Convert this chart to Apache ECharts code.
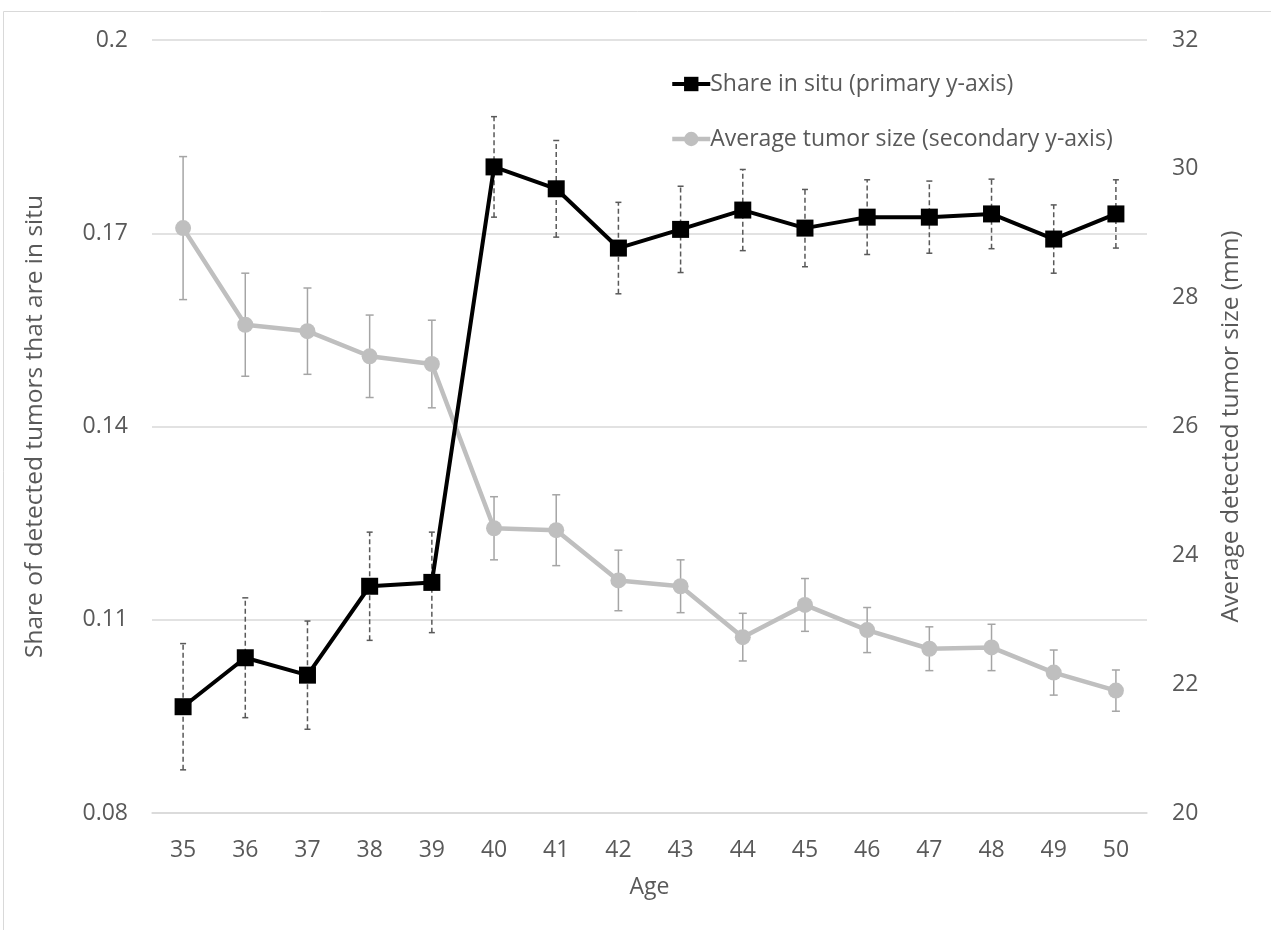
<!DOCTYPE html>
<html>
<head>
<meta charset="utf-8">
<script src="https://cdn.jsdelivr.net/npm/echarts@6/dist/echarts.min.js"></script>
<style>
html,body{margin:0;padding:0;background:#fff;}
#chart{width:1271px;height:930px;}
</style>
</head>
<body>
<div id="chart"></div>
<script>
const ages = ['35','36','37','38','39','40','41','42','43','44','45','46','47','48','49','50'];
const shareInSitu = [0.0965, 0.1041, 0.1014, 0.1152, 0.1158, 0.1803, 0.1769, 0.1677, 0.1706, 0.1736, 0.1708, 0.1725, 0.1725, 0.1730, 0.1691, 0.1730];
const shareErr = [0.0098, 0.0093, 0.0084, 0.0084, 0.0078, 0.0078, 0.0075, 0.0071, 0.0067, 0.0063, 0.0060, 0.0058, 0.0056, 0.0054, 0.0053, 0.0053];
const tumorSize = [29.08, 27.58, 27.48, 27.09, 26.97, 24.42, 24.39, 23.61, 23.52, 22.73, 23.23, 22.84, 22.55, 22.57, 22.18, 21.90];
const sizeErr = [1.11, 0.80, 0.67, 0.64, 0.68, 0.49, 0.55, 0.47, 0.41, 0.37, 0.41, 0.35, 0.34, 0.36, 0.35, 0.32];
const shareName = 'Share in situ (primary y-axis)';
const sizeName = 'Average tumor size (secondary y-axis)';

const FONT = 'Open Sans';
const TXT = '#595959';

function errData(vals, errs) {
  return vals.map((v, i) => [i, v - errs[i], v + errs[i]]);
}
function errRenderer(color, dash, capHalf) {
  return function (params, api) {
    const x = api.value(0);
    const lo = api.coord([x, api.value(1)]);
    const hi = api.coord([x, api.value(2)]);
    const st = { stroke: color, lineWidth: 1.5, lineDash: dash };
    return {
      type: 'group',
      children: [
        { type: 'line', shape: { x1: lo[0], y1: lo[1], x2: hi[0], y2: hi[1] }, style: st },
        { type: 'line', shape: { x1: hi[0] - capHalf, y1: hi[1], x2: hi[0] + capHalf, y2: hi[1] }, style: { stroke: color, lineWidth: 1.5 } },
        { type: 'line', shape: { x1: lo[0] - capHalf, y1: lo[1], x2: lo[0] + capHalf, y2: lo[1] }, style: { stroke: color, lineWidth: 1.5 } }
      ]
    };
  };
}

const chart = echarts.init(document.getElementById('chart'), null, { renderer: 'canvas' });
chart.setOption({
  animation: false,
  backgroundColor: '#fff',
  textStyle: { fontFamily: FONT, color: TXT },
  graphic: [{
    type: 'rect', shape: { x: 3.5, y: 11.5, width: 1300, height: 1000 },
    style: { fill: 'none', stroke: '#d9d9d9', lineWidth: 1 }, silent: true, z: -1
  }],
  grid: { left: 152, right: 124, top: 40, bottom: 117, containLabel: false },
  legend: {
    orient: 'vertical',
    left: 665, top: 65,
    itemWidth: 38, itemHeight: 18, itemGap: 27,
    data: [
      { name: shareName, lineStyle: { width: 4, color: '#000' }, itemStyle: { color: '#000' } },
      { name: sizeName, lineStyle: { width: 4.5, color: '#bfbfbf' }, itemStyle: { color: '#bfbfbf' } }
    ],
    textStyle: { fontFamily: FONT, fontSize: 23, lineHeight: 28, color: TXT, padding: [0, 0, 0, -5] }
  },
  xAxis: {
    type: 'category', data: ages, boundaryGap: true,
    axisTick: { show: false },
    axisLine: { lineStyle: { color: '#d9d9d9', width: 1.5 } },
    axisLabel: { fontFamily: FONT, fontSize: 23, color: TXT, margin: 26 },
    name: 'Age', nameLocation: 'middle', nameGap: 63,
    nameTextStyle: { fontFamily: FONT, fontSize: 23, color: TXT }
  },
  yAxis: [{
    type: 'value', min: 0.08, max: 0.2, interval: 0.03,
    axisLine: { show: false }, axisTick: { show: false },
    splitLine: { lineStyle: { color: '#d9d9d9', width: 1.5 } },
    axisLabel: { fontFamily: FONT, fontSize: 23, color: TXT, margin: 24, formatter: v => String(+v.toFixed(2)) },
    name: 'Share of detected tumors that are in situ', nameLocation: 'middle', nameGap: 104, nameRotate: 90,
    nameTextStyle: { fontFamily: FONT, fontSize: 24.5, color: TXT }
  }, {
    type: 'value', min: 20, max: 32, interval: 2, position: 'right',
    axisLine: { show: false }, axisTick: { show: false }, splitLine: { show: false },
    axisLabel: { fontFamily: FONT, fontSize: 23, color: TXT, margin: 25 },
    name: 'Average detected tumor size (mm)', nameLocation: 'middle', nameGap: 72, nameRotate: 90,
    nameTextStyle: { fontFamily: FONT, fontSize: 24.5, color: TXT }
  }],
  series: [
    {
      name: 'sizeErr', type: 'custom', yAxisIndex: 1, z: 2,
      renderItem: errRenderer('#a5a5a5', null, 4),
      encode: { x: 0, y: [1, 2] },
      data: errData(tumorSize, sizeErr), silent: true
    },
    {
      name: sizeName, type: 'line', yAxisIndex: 1, z: 3,
      data: tumorSize, symbol: 'circle', symbolSize: 16,
      lineStyle: { color: '#bfbfbf', width: 4.5 },
      itemStyle: { color: '#bfbfbf' }
    },
    {
      name: 'shareErr', type: 'custom', yAxisIndex: 0, z: 4,
      renderItem: errRenderer('#595959', [5, 3], 3),
      encode: { x: 0, y: [1, 2] },
      data: errData(shareInSitu, shareErr), silent: true
    },
    {
      name: shareName, type: 'line', yAxisIndex: 0, z: 5,
      data: shareInSitu, symbol: 'rect', symbolSize: 17,
      lineStyle: { color: '#000', width: 4 },
      itemStyle: { color: '#000' }
    }
  ]
});
</script>
</body>
</html>
